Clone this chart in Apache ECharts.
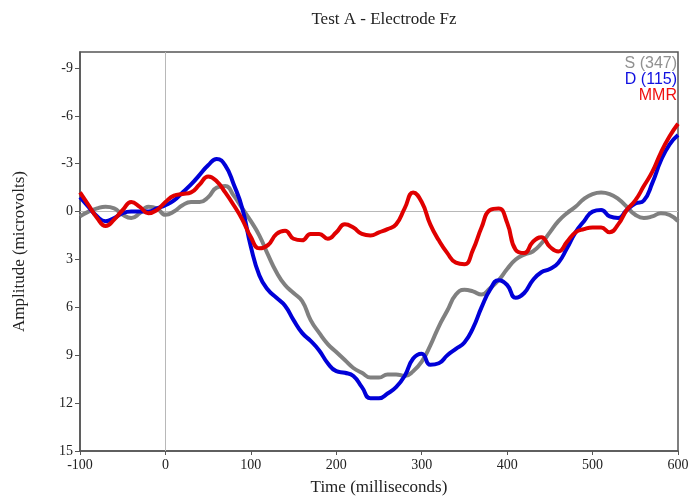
<!DOCTYPE html>
<html>
<head>
<meta charset="utf-8">
<script src="https://cdn.jsdelivr.net/npm/echarts@6/dist/echarts.min.js"></script>
<style>
  html, body { margin: 0; padding: 0; background: #fff; }
  #chart { width: 690px; height: 496px; }
</style>
</head>
<body>
<div id="chart"></div>
<script>
// Grand-average ERP waveforms at electrode Fz (negative up)
const times = [];
for (let t = -100; t <= 600; t += 10) times.push(t);

const seriesNames = ['S (347)', 'D (115)', 'MMR'];
const seriesColors = ['#808080', '#0000d8', '#e00000'];
const labelColors = ['#909090', '#1010e0', '#f01010'];

const sWave = [
  0.3, 0.0, -0.2, -0.3, -0.2, 0.2, 0.4, 0.1, -0.3, -0.2,
  0.2, 0.0, -0.4, -0.6, -0.6, -0.9, -1.5, -1.6, -1.0, -0.2,
  0.6, 1.5, 2.7, 3.8, 4.6, 5.1, 5.6, 6.8, 7.6, 8.3,
  8.8, 9.3, 9.8, 10.1, 10.4, 10.4, 10.2, 10.2, 10.3, 10.0,
  9.4, 8.4, 7.2, 6.2, 5.2, 4.9, 5.0, 5.2, 4.8, 4.3,
  3.6, 3.0, 2.7, 2.5, 2.0, 1.3, 0.6, 0.1, -0.3, -0.8,
  -1.1, -1.2, -1.1, -0.8, -0.3, 0.2, 0.4, 0.3, 0.1, 0.2,
  0.6
];

const dWave = [
  -0.9, -0.3, 0.3, 0.6, 0.4, 0.1, 0.0, 0.0, 0.0, -0.2,
  -0.4, -0.7, -1.2, -1.7, -2.3, -2.9, -3.3, -2.9, -1.7, -0.2,
  2.2, 4.0, 4.9, 5.4, 5.9, 6.8, 7.6, 8.1, 8.7, 9.5,
  10.0, 10.1, 10.3, 11.0, 11.7, 11.7, 11.4, 11.0, 10.3, 9.2,
  8.9, 9.6, 9.5, 9.0, 8.6, 8.2, 7.3, 6.0, 4.9, 4.3,
  4.6, 5.4, 5.1, 4.3, 3.8, 3.6, 3.2, 2.3, 1.3, 0.6,
  0.0, -0.1, 0.3, 0.4, -0.1, -0.5, -0.7, -1.8, -3.2, -4.2,
  -4.8
];

const mmrWave = [
  -1.2, -0.4, 0.4, 0.9, 0.5, -0.1, -0.6, -0.3, 0.1, -0.1,
  -0.6, -1.0, -1.1, -1.2, -1.7, -2.2, -1.9, -1.2, -0.4, 0.5,
  1.6, 2.3, 2.1, 1.4, 1.2, 1.7, 1.8, 1.4, 1.4, 1.7,
  1.3, 0.8, 1.0, 1.4, 1.5, 1.3, 1.1, 0.8, -0.2, -1.2,
  -0.6, 0.8, 1.8, 2.6, 3.2, 3.3, 2.4, 1.0, -0.1, -0.2,
  0.7, 2.4, 2.6, 1.9, 1.6, 2.2, 2.5, 1.9, 1.3, 1.1,
  1.0, 1.0, 1.3, 0.8, -0.1, -0.7, -1.6, -2.5, -3.7, -4.7,
  -5.5
];

const yTicks = [-9, -6, -3, 0, 3, 6, 9, 12, 15];

const waves = [sWave, dWave, mmrWave];
const serif = '"Liberation Serif", "Times New Roman", serif';
const sans = '"Liberation Sans", Arial, sans-serif';

const chart = echarts.init(document.getElementById('chart'), null, { renderer: 'canvas' });

const series = waves.map((w, i) => ({
  name: seriesNames[i],
  type: 'line',
  smooth: 0.5,
  showSymbol: false,
  symbol: 'none',
  data: times.map((t, k) => [t, w[k]]),
  lineStyle: { color: seriesColors[i], width: 4 },
  itemStyle: { color: seriesColors[i] },
  z: 3 + i
}));

// reference lines at stimulus onset and zero amplitude
series[0].markLine = {
  silent: true,
  symbol: 'none',
  label: { show: false },
  lineStyle: { color: '#b8b8b8', width: 1, type: 'solid' },
  data: [{ xAxis: 0 }, { yAxis: 0 }],
  z: 1
};

chart.setOption({
  animation: false,
  backgroundColor: '#ffffff',
  title: {
    text: 'Test A - Electrode Fz',
    left: 379,
    top: 6,
    textAlign: 'center',
    textStyle: { fontFamily: serif, fontSize: 17, fontWeight: 'normal', color: '#222' }
  },
  grid: {
    left: 80, right: 12, top: 52, bottom: 45,
    outerBoundsMode: 'none',
    containLabel: false,
    show: true,
    borderColor: '#555',
    borderWidth: 1.5,
    backgroundColor: 'transparent'
  },
  xAxis: {
    type: 'value',
    min: -100, max: 600, interval: 100,
    name: 'Time (milliseconds)',
    nameLocation: 'middle',
    nameGap: 28,
    nameTextStyle: { fontFamily: serif, fontSize: 17, color: '#222' },
    axisLine: { show: true, onZero: false, lineStyle: { color: '#555', width: 1.5 } },
    axisTick: { show: true, inside: false, length: 4, lineStyle: { color: '#555' } },
    axisLabel: { fontFamily: serif, fontSize: 14, color: '#222', margin: 7 },
    splitLine: { show: false }
  },
  yAxis: {
    type: 'value',
    inverse: true,
    min: -10, max: 15,
    name: 'Amplitude (microvolts)',
    nameLocation: 'middle',
    nameGap: 52,
    nameRotate: 90,
    nameTextStyle: { fontFamily: serif, fontSize: 17, color: '#222' },
    axisLine: { show: true, onZero: false, lineStyle: { color: '#555', width: 1.5 } },
    axisTick: { show: true, length: 5, lineStyle: { color: '#555' }, customValues: yTicks },
    axisLabel: { fontFamily: serif, fontSize: 14, color: '#222', margin: 7, customValues: yTicks },
    splitLine: { show: false }
  },
  graphic: seriesNames.map((n, i) => ({
    type: 'text',
    right: 13,
    top: 56 + i * 16,
    z: 10,
    style: {
      text: n,
      fill: labelColors[i],
      font: '16px ' + sans,
      textAlign: 'right'
    }
  })),
  series: series
});
</script>
</body>
</html>
